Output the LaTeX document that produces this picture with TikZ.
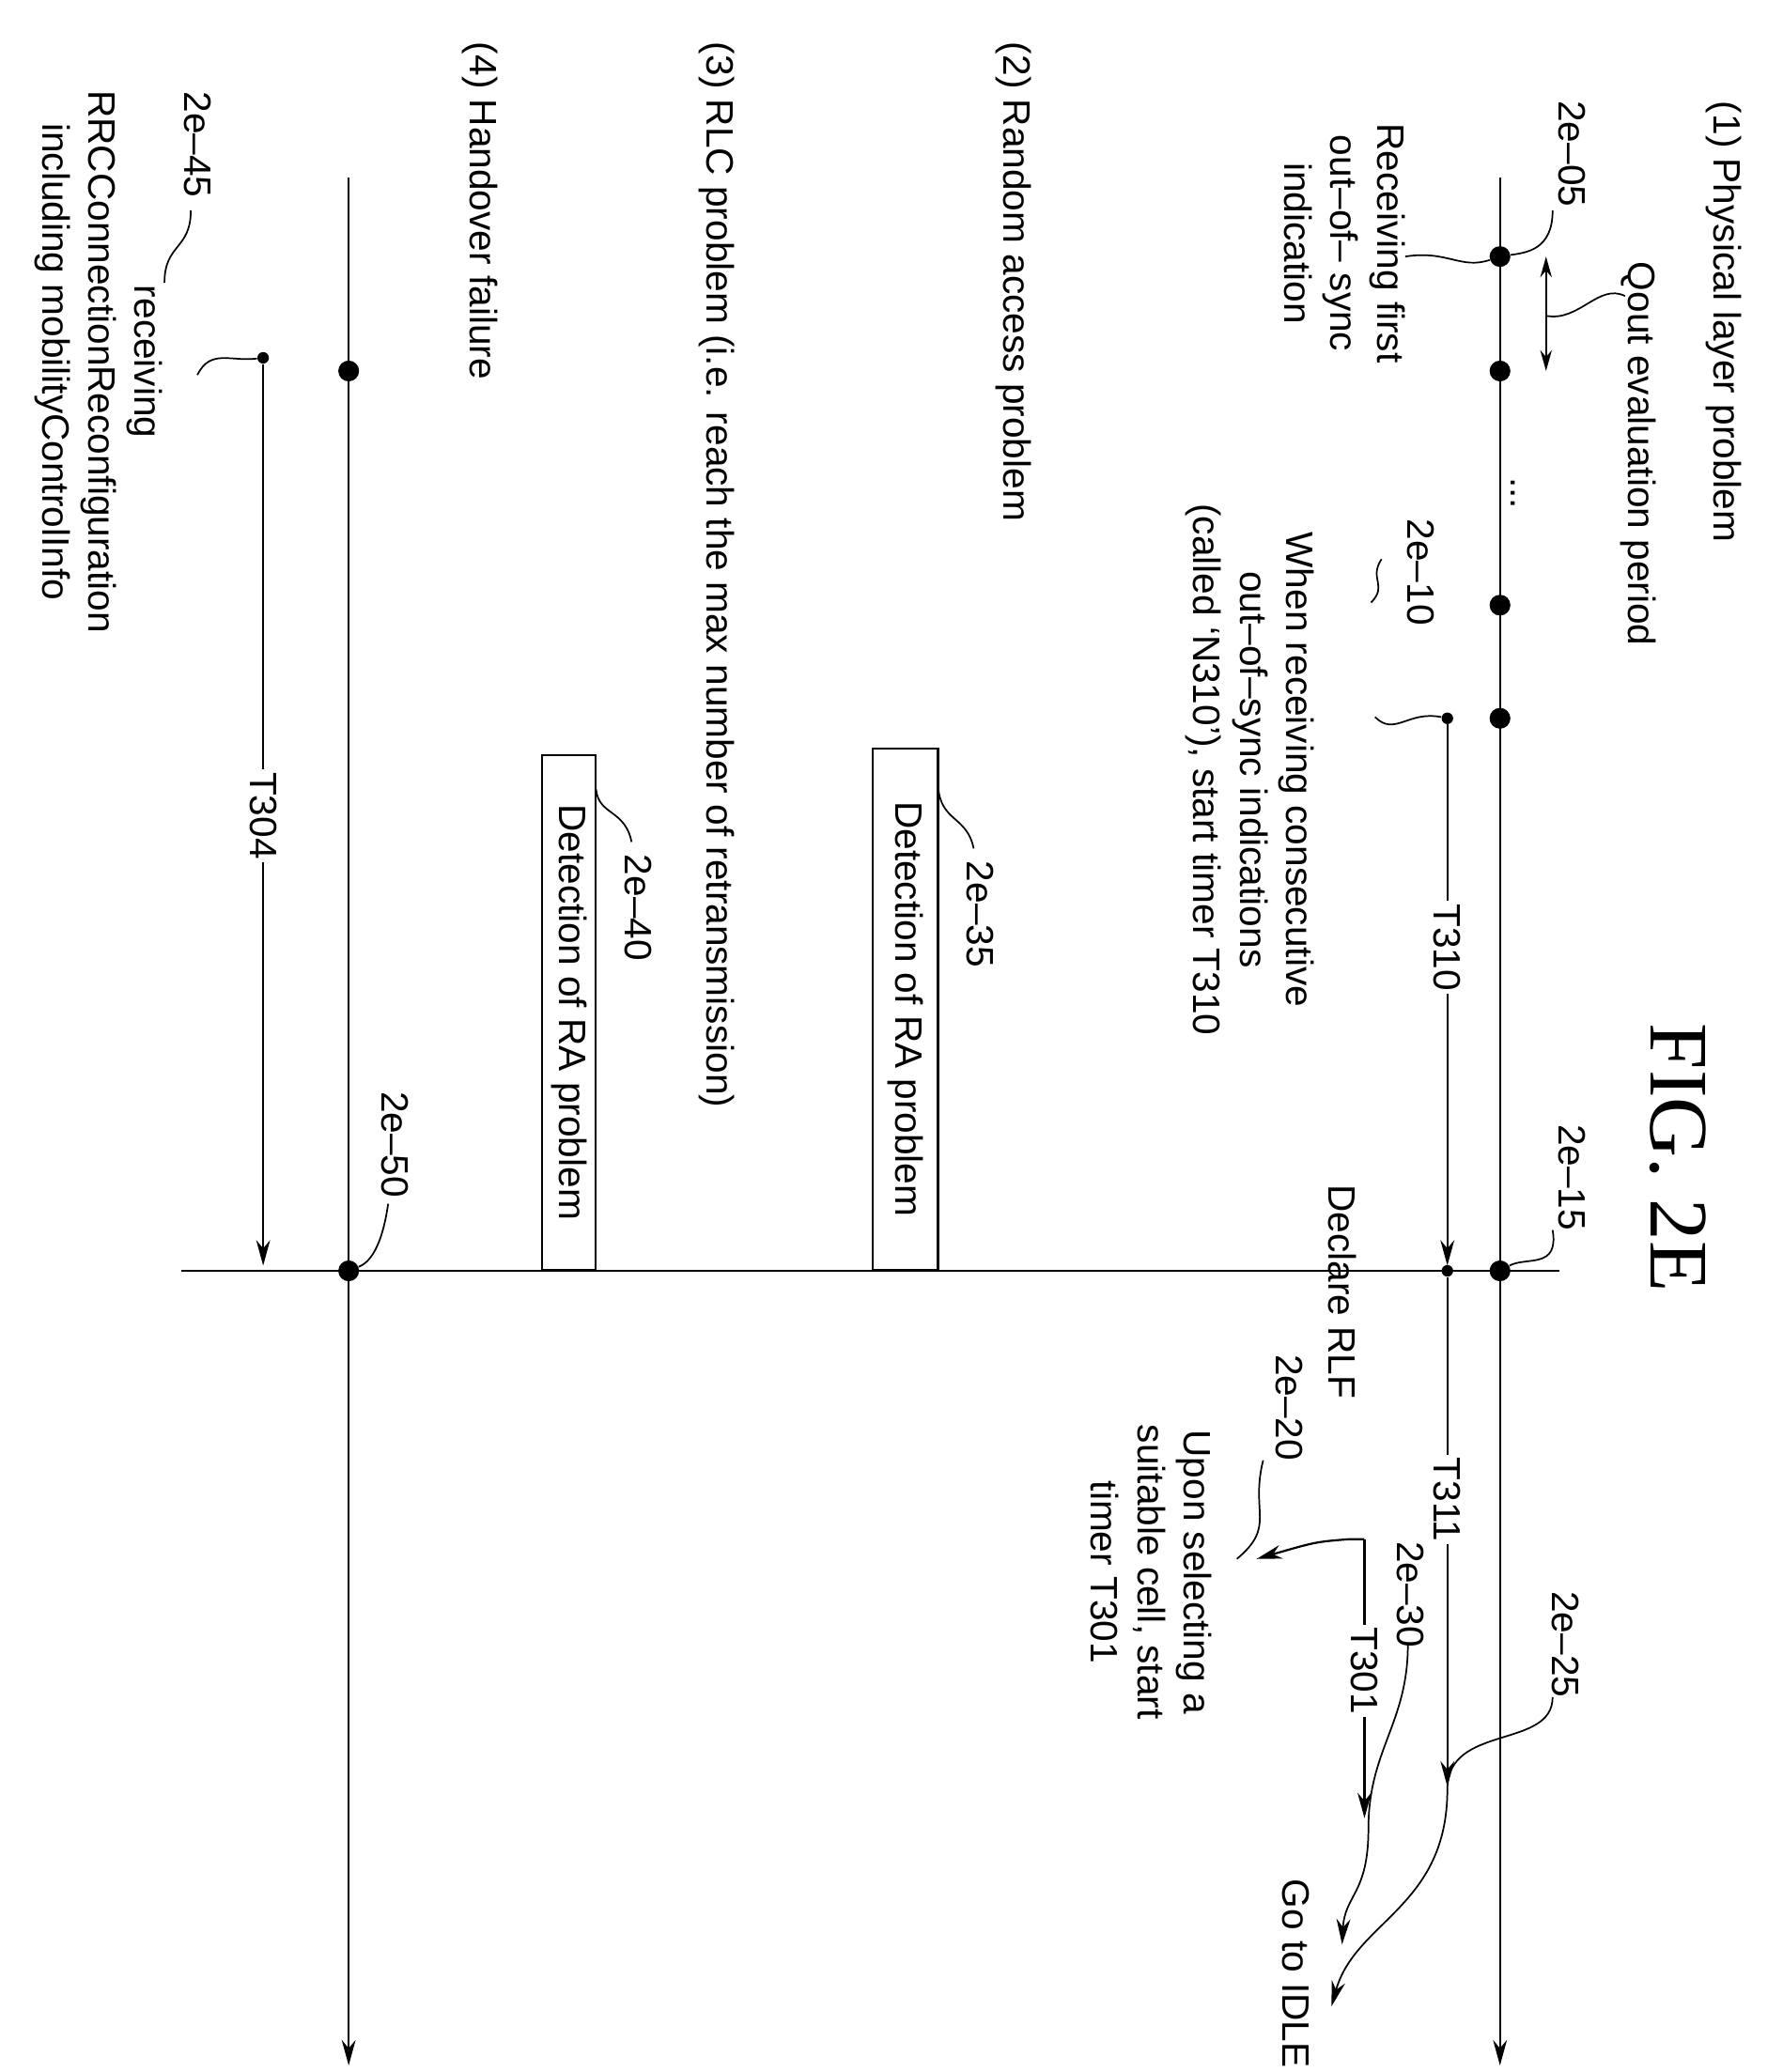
\documentclass[tikz,border=0pt]{standalone}
\usepackage{fontspec}
\setmainfont{Liberation Sans}
\newfontfamily\figfont{Liberation Serif}
\usetikzlibrary{arrows.meta}
\tikzset{
  lbl/.style={rotate=-90,inner sep=1pt,font=\fontsize{16.5}{20}\selectfont,align=center},
  bigdot/.style={circle,fill=black,inner sep=0pt,minimum size=9pt},
  smalldot/.style={circle,fill=black,inner sep=0pt,minimum size=5pt},
  tl/.style={line width=0.9pt},
  arr/.style={tl,-{Stealth[length=11pt,width=6pt]}},
  lead/.style={line width=0.7pt},
  detbox/.style={draw,line width=0.9pt,rotate=-90,font=\fontsize{16.5}{20}\selectfont}
}
\begin{document}
\begin{tikzpicture}[x=0.02cm,y=-0.02cm]
\useasboundingbox (0,0) rectangle (1355,1575);
% time lines
\coordinate (l1s) at (1140,135); \coordinate (l1e) at (1140,1570);
\coordinate (l2s) at (265,135); \coordinate (l2e) at (265,1570);
\coordinate (hs) at (138,966); \coordinate (he) at (1185,966);
\draw[arr] (l1s) -- (l1e);
\draw[arr] (l2s) -- (l2e);
\draw[tl] (hs) -- (he);
\foreach \y/\n in {195/a,282/b,460/c,546/d,966/e} \node[bigdot] (p\n) at (1140,\y) {};
\node[bigdot] (hb) at (265,282) {};
\node[bigdot] (he2) at (265,966) {};
% titles
\node[lbl,font=\fontsize{36}{40}\figfont] (fig) at (1275,880) {FIG. 2E};
\node[lbl,anchor=west] (t1) at (1310,75) {(1) Physical layer problem};
\node[lbl,anchor=west] (t2) at (770,30) {(2) Random access problem};
\node[lbl,anchor=west] (t3) at (545,30) {(3) RLC problem (i.e. reach the max number of retransmission)};
\node[lbl,anchor=west] (t4) at (365,30) {(4) Handover failure};
% qout
\node[lbl] (qout) at (1245,345) {Qout evaluation period};
\draw[tl,{Stealth[length=9pt,width=5pt]}-{Stealth[length=9pt,width=5pt]}] (1175,195) -- (1175,282);
\draw[lead] (1175,240) .. controls (1200,245) and (1215,215) .. (1235,225);
\node[lbl] (dots) at (1150,375) {...};
% 2e-05
\node[lbl] (r05) at (1195,117) {2e--05};
\node[lbl] (rcv1) at (1022,185) {Receiving first\\out--of-- sync\\indication};
\draw[lead] (1180,160) .. controls (1180,190) and (1160,192) .. (pa);
\draw[lead] (pa) .. controls (1110,205) and (1100,190) .. (1068,195);
% T310
\node[smalldot] (s310) at (1100,546) {};
\node[smalldot] (e310) at (1100,966) {};
\node[lbl,fill=white] (T310) at (1100,720) {T310};
\draw[tl] (s310) -- (T310);
\draw[arr] (T310) -- (1100,962);
\node[lbl] (r10) at (1080,435) {2e--10};
\node[lbl] (when) at (950,585) {When receiving consecutive\\out--of--sync indications\\(called `N310'), start timer T310};
\draw[lead] (1050,425) .. controls (1040,440) and (1055,445) .. (1042,458);
\draw[lead] (1045,545) .. controls (1060,560) and (1070,540) .. (s310);
% T311
\node[lbl,fill=white] (T311) at (1100,1140) {T311};
\draw[tl] (e310) -- (T311);
\draw[arr] (T311) -- (1100,1358);
\node[lbl] (r15) at (1195,895) {2e--15};
\draw[lead] (1180,935) .. controls (1185,965) and (1160,955) .. (pe);
\node[lbl] (rlf) at (1020,982) {Declare RLF};
\node[lbl] (r20) at (980,1070) {2e--20};
\node[lbl] (upon) at (875,1195) {Upon selecting a\\suitable cell, start\\timer T301};
\draw[lead] (960,1110) .. controls (950,1150) and (970,1160) .. (940,1185);
% T301
\coordinate (s301) at (1037,1170);
\node[lbl,fill=white] (T301) at (1037,1270) {T301};
\draw[tl] (s301) -- (T301);
\draw[arr] (T301) -- (1037,1382);
\draw[arr] (s301) -- (1025,1170) .. controls (1000,1172) .. (955,1185);
\node[lbl] (r30) at (1072,1212) {2e--30};
\node[lbl] (r25) at (1190,1250) {2e--25};
\node[lbl,anchor=east] (idle) at (985,1574) {Go to IDLE};
\draw[arr,lead] (1070,1250) .. controls (1070,1310) and (1040,1330) .. (1040,1390) .. controls (1040,1440) and (1022,1440) .. (1020,1478);
\draw[arr,lead] (1180,1290) .. controls (1180,1330) and (1100,1310) .. (1100,1360) .. controls (1100,1450) and (1030,1460) .. (1012,1525);
% boxes
\node[detbox,minimum width=398*0.5669pt,minimum height=50*0.5669pt] (b35) at (688,767) {Detection of RA problem};
\node[detbox,minimum width=393*0.5669pt,minimum height=41*0.5669pt] (b40) at (432.5,769.5) {Detection of RA problem};
\node[lbl] (r35) at (745,695) {2e--35};
\node[lbl] (r40) at (485,690) {2e--40};
\draw[lead] (740,645) .. controls (735,620) and (715,625) .. (713,598);
\draw[lead] (480,640) .. controls (475,615) and (455,620) .. (453,600);
% T304
\node[smalldot] (s304) at (200,272) {};
\node[lbl,fill=white] (T304) at (200,620) {T304};
\draw[tl] (s304) -- (T304);
\draw[arr] (T304) -- (200,962);
\node[lbl] (r45) at (150,110) {2e--45};
\node[lbl] (rrc) at (75,275) {receiving\\RRCConnectionReconfiguration\\including mobilityControlInfo};
\draw[lead] (145,160) .. controls (145,190) and (125,185) .. (125,215);
\draw[lead] (150,285) .. controls (160,265) and (175,275) .. (s304);
\node[lbl] (r50) at (300,870) {2e--50};
\draw[lead] (295,915) .. controls (290,950) and (280,960) .. (he2);
\end{tikzpicture}
\end{document}
